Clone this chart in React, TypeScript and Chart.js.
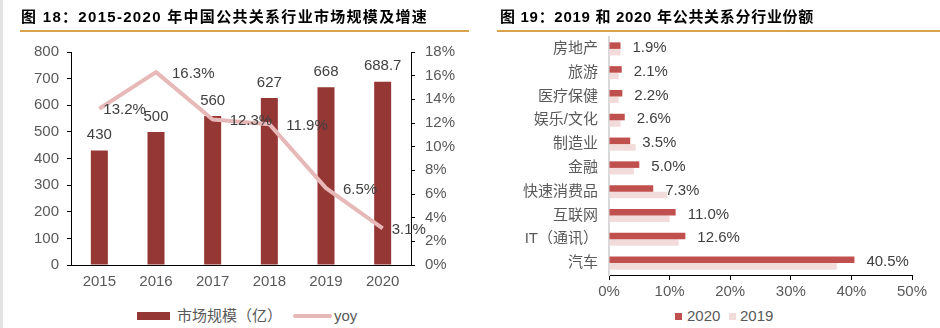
import React, { useEffect, useRef } from 'react';
import { Chart, registerables } from 'chart.js';

Chart.register(...registerables);

// ---------- data ----------
const years = ['2015', '2016', '2017', '2018', '2019', '2020'];
const marketSize = [430, 500, 560, 627, 668, 688.7];
const yoyGrowth = [13.2, 16.3, 12.3, 11.9, 6.5, 3.1];

const industries = ['房地产', '旅游', '医疗保健', '娱乐/文化', '制造业', '金融', '快速消费品', '互联网', 'IT（通讯）', '汽车'];
const share2020 = [1.9, 2.1, 2.2, 2.6, 3.5, 5.0, 7.3, 11.0, 12.6, 40.5];
const share2019 = [1.9, 1.6, 1.6, 1.9, 4.4, 4.1, 9.6, 10.0, 11.5, 37.6];

const title18 = '图 18：2015-2020 年中国公共关系行业市场规模及增速';
const title19 = '图 19：2019 和 2020 年公共关系分行业份额';

// ---------- styles ----------
const FONT = '"Liberation Sans", "Noto Sans CJK SC", Arial, sans-serif';
const AXIS_TEXT = '#595959';
const LABEL_TEXT = '#404040';
const BAR_DARK = '#953735';
const LINE_PINK = '#E6B9B8';
const RED_2020 = '#C0504D';
const PINK_2019 = '#F2DCDB';
const yoyLabelDx = [4, 16, 17, 17, 17, 9];

function LeftChart() {
  const ref = useRef<HTMLCanvasElement | null>(null);
  useEffect(() => {
    const canvas = ref.current!;
    const chart = new Chart(canvas, {
      type: 'bar',
      data: {
        labels: years,
        datasets: [
          {
            type: 'line',
            label: 'yoy',
            data: yoyGrowth,
            yAxisID: 'y1',
            borderColor: LINE_PINK,
            backgroundColor: LINE_PINK,
            borderWidth: 4,
            pointRadius: 0,
            tension: 0,
            borderJoinStyle: 'round',
            order: 1,
          } as any,
          {
            type: 'bar',
            label: '市场规模（亿）',
            data: marketSize,
            yAxisID: 'y',
            backgroundColor: BAR_DARK,
            barPercentage: 0.3,
            categoryPercentage: 1,
            order: 2,
          },
        ],
      },
      options: {
        responsive: false,
        animation: false,
        devicePixelRatio: 1,
        layout: { padding: { top: 52, left: 0, right: 0, bottom: 0 } },
        plugins: { legend: { display: false }, tooltip: { enabled: false } },
        scales: {
          x: {
            grid: { display: false, drawTicks: false },
            border: { display: true, color: '#000', width: 1 },
            ticks: { color: AXIS_TEXT, font: { family: FONT, size: 15 }, padding: 8 },
            afterFit: (s: any) => { s.height = 35; },
          },
          y: {
            position: 'left',
            min: 0,
            max: 800,
            ticks: { stepSize: 100, color: AXIS_TEXT, font: { family: FONT, size: 15 }, padding: 8 },
            grid: { display: true, drawOnChartArea: false, drawTicks: true, tickLength: 4, tickColor: '#000' },
            border: { display: true, color: '#000', width: 1 },
            afterFit: (s: any) => { s.width = 71; },
          },
          y1: {
            position: 'right',
            min: 0,
            max: 18,
            ticks: {
              stepSize: 2,
              color: AXIS_TEXT,
              font: { family: FONT, size: 15 },
              padding: 10,
              callback: (v: any) => v + '%',
            },
            grid: { display: true, drawOnChartArea: false, drawTicks: true, tickLength: 4, tickColor: '#000' },
            border: { display: true, color: '#000', width: 1 },
            afterFit: (s: any) => { s.width = 59; },
          },
        },
      } as any,
      plugins: [
        {
          id: 'leftLabels',
          afterDatasetsDraw(c: any) {
            const ctx = c.ctx;
            ctx.save();
            ctx.font = '15px ' + FONT;
            ctx.fillStyle = LABEL_TEXT;
            ctx.textBaseline = 'middle';
            const barMeta = c.getDatasetMeta(1);
            ctx.textAlign = 'center';
            barMeta.data.forEach((el: any, i: number) => {
              ctx.fillText(String(marketSize[i]), el.x, el.y - 15.5);
            });
            const lineMeta = c.getDatasetMeta(0);
            ctx.textAlign = 'left';
            lineMeta.data.forEach((el: any, i: number) => {
              ctx.fillText(yoyGrowth[i].toFixed(1) + '%', el.x + yoyLabelDx[i], el.y + 1.5);
            });
            ctx.restore();
          },
        },
      ],
    });
    return () => chart.destroy();
  }, []);
  return <canvas ref={ref} width={470} height={300} style={{ position: 'absolute', left: 0, top: 0 }} />;
}

function RightChart() {
  const ref = useRef<HTMLCanvasElement | null>(null);
  useEffect(() => {
    const canvas = ref.current!;
    const chart = new Chart(canvas, {
      type: 'bar',
      data: {
        labels: industries,
        datasets: [
          { label: '2020', data: share2020, backgroundColor: RED_2020, barPercentage: 1, categoryPercentage: 0.55 },
          { label: '2019', data: share2019, backgroundColor: PINK_2019, barPercentage: 1, categoryPercentage: 0.55 },
        ],
      },
      options: {
        indexAxis: 'y',
        responsive: false,
        animation: false,
        devicePixelRatio: 1,
        layout: { padding: { top: 37, left: 0, right: 28, bottom: 0 } },
        plugins: { legend: { display: false }, tooltip: { enabled: false } },
        scales: {
          x: {
            min: 0,
            max: 50,
            ticks: {
              stepSize: 10,
              color: AXIS_TEXT,
              font: { family: FONT, size: 15 },
              padding: 3,
              callback: (v: any) => v + '%',
            },
            grid: { display: true, drawOnChartArea: false, drawTicks: true, tickLength: 5, tickColor: '#000' },
            border: { display: true, color: '#000', width: 1 },
            afterFit: (s: any) => { s.height = 25; },
          },
          y: {
            ticks: { color: AXIS_TEXT, font: { family: FONT, size: 15 }, padding: 11 },
            grid: { display: false, drawTicks: false },
            border: { display: true, color: '#D9D9D9', width: 2 },
            afterFit: (s: any) => { s.width = 139; },
          },
        },
      } as any,
      plugins: [
        {
          id: 'rightLabels',
          afterDatasetsDraw(c: any) {
            const ctx = c.ctx;
            ctx.save();
            ctx.font = '15px ' + FONT;
            ctx.fillStyle = LABEL_TEXT;
            ctx.textBaseline = 'middle';
            ctx.textAlign = 'left';
            const meta = c.getDatasetMeta(0);
            meta.data.forEach((el: any, i: number) => {
              const cy = c.scales.y.getPixelForValue(i);
              ctx.fillText(share2020[i].toFixed(1) + '%', el.x + 12, cy - 1);
            });
            ctx.restore();
          },
        },
      ],
    });
    return () => chart.destroy();
  }, []);
  return <canvas ref={ref} width={470} height={300} style={{ position: 'absolute', left: 470, top: 0 }} />;
}

const titleStyle: React.CSSProperties = {
  position: 'absolute',
  top: 8,
  fontFamily: FONT,
  fontWeight: 'bold',
  fontSize: 15,
  lineHeight: '18px',
  letterSpacing: '1.3px',
  color: '#000',
  whiteSpace: 'nowrap',
};

const legendText: React.CSSProperties = {
  position: 'absolute',
  top: 307,
  fontFamily: FONT,
  fontSize: 15,
  lineHeight: '18px',
  color: AXIS_TEXT,
  whiteSpace: 'nowrap',
};

export default function App() {
  return (
    <div style={{ position: 'fixed', left: 0, top: 0, width: 940, height: 328, background: '#fff', overflow: 'hidden' }}>
      <div style={{ position: 'absolute', left: 0, top: 0, width: 3, height: 328, background: '#E3E3E3' }} />
      <LeftChart />
      <RightChart />
      <div style={{ ...titleStyle, left: 21 }}>{title18}</div>
      <div style={{ ...titleStyle, left: 500, letterSpacing: '0.7px' }}>{title19}</div>
      <div style={{ position: 'absolute', left: 20, top: 30, width: 449, height: 2, background: '#D9A24C' }} />
      <div style={{ position: 'absolute', left: 497, top: 30, width: 443, height: 2, background: '#D9A24C' }} />
      {/* left legend */}
      <div style={{ position: 'absolute', left: 137, top: 312, width: 33, height: 8, background: BAR_DARK }} />
      <div style={{ ...legendText, left: 177 }}>市场规模（亿）</div>
      <div style={{ position: 'absolute', left: 293, top: 314, width: 39, height: 4, borderRadius: 2, background: LINE_PINK }} />
      <div style={{ ...legendText, left: 334 }}>yoy</div>
      {/* right legend */}
      <div style={{ position: 'absolute', left: 675, top: 313, width: 7, height: 7, background: RED_2020 }} />
      <div style={{ ...legendText, left: 687 }}>2020</div>
      <div style={{ position: 'absolute', left: 729, top: 313, width: 7, height: 7, background: PINK_2019 }} />
      <div style={{ ...legendText, left: 740 }}>2019</div>
    </div>
  );
}
